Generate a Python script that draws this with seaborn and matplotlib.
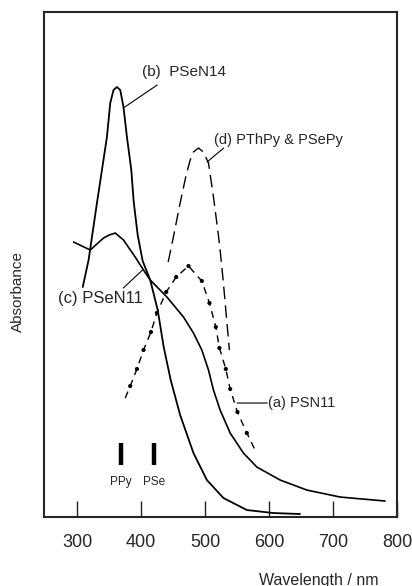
import numpy as np
import pandas as pd
import matplotlib
matplotlib.use("Agg")
import matplotlib.pyplot as plt
import seaborn as sns

# ---- data (absorbance in arbitrary units) ----
b_nm = [308.6, 317.7, 323.0, 330.8, 338.6, 346.4, 351.6, 356.7, 362.0, 367.2, 372.3, 377.7,
        384.5, 388.3, 394.5, 402.3, 414.1, 425.8, 435.2, 446.1, 460.9, 481.7, 502.7, 528.6,
        565.2, 606.7, 648.4]
b_abs = [2.30, 2.57, 2.80, 3.14, 3.47, 3.80, 4.14, 4.27, 4.30, 4.27, 4.10, 3.80,
         3.47, 3.15, 2.82, 2.56, 2.37, 2.07, 1.70, 1.37, 1.02, 0.64, 0.37, 0.19,
         0.07, 0.04, 0.03]

c_nm = [294.2, 320.3, 341.1, 350.0, 359.4, 372.3, 390.6, 403.6, 414.1, 440.2, 466.1, 481.7,
        494.8, 505.2, 513.0, 523.4, 539.1, 559.8, 580.8, 617.2, 658.9, 710.9, 781.3]
c_abs = [2.75, 2.67, 2.79, 2.82, 2.84, 2.77, 2.60, 2.47, 2.37, 2.20, 2.00, 1.84,
         1.67, 1.47, 1.27, 1.07, 0.84, 0.64, 0.50, 0.37, 0.27, 0.20, 0.16]

a_nm = [375.0, 382.8, 393.3, 403.6, 415.2, 424.5, 439.1, 454.7, 473.9, 494.8, 506.7, 516.7,
        522.3, 532.3, 539.1, 550.5, 565.2, 578.1]
a_abs = [1.19, 1.31, 1.48, 1.67, 1.85, 2.04, 2.25, 2.40, 2.51, 2.36, 2.14, 1.90,
         1.69, 1.48, 1.28, 1.05, 0.84, 0.67]

d_nm = [442.2, 450.0, 460.9, 470.3, 476.6, 481.7, 489.5, 497.3, 505.2, 513.0, 520.3, 523.4,
        528.1, 537.9]
d_abs = [2.55, 2.79, 3.14, 3.42, 3.57, 3.65, 3.69, 3.65, 3.54, 3.20, 2.84, 2.67,
         2.37, 1.67]

ref_names = ["PPy", "PSe"]
ref_nm = [368, 420]

x_ticks = [300, 400, 500, 600, 700, 800]
x_tick_labels = ["300", "400", "500", "600", "700", "800"]

# ---- style ----
sns.set_style("ticks")
plt.rcParams["font.family"] = ["Liberation Sans", "DejaVu Sans"]

fig = plt.figure(figsize=(4.12, 5.86), dpi=100)
ax = fig.add_axes([0.1068, 0.1177, 0.8568, 0.8618])

df_b = pd.DataFrame({"nm": b_nm, "A": b_abs})
df_c = pd.DataFrame({"nm": c_nm, "A": c_abs})
df_a = pd.DataFrame({"nm": a_nm, "A": a_abs})
df_d = pd.DataFrame({"nm": d_nm, "A": d_abs})

sns.lineplot(data=df_b, x="nm", y="A", ax=ax, color="black", lw=1.3, estimator=None, sort=False)
ax.lines[-1].set_solid_joinstyle("round")
sns.lineplot(data=df_c, x="nm", y="A", ax=ax, color="black", lw=1.2, estimator=None, sort=False)
ax.lines[-1].set_solid_joinstyle("round")
sns.lineplot(data=df_a, x="nm", y="A", ax=ax, color="black", lw=1.0, estimator=None, sort=False)
ax.lines[-1].set_dashes((5, 4))
sns.scatterplot(data=df_a.iloc[1:-1], x="nm", y="A", ax=ax, color="black", s=9,
                edgecolor="none", zorder=5)
sns.lineplot(data=df_d, x="nm", y="A", ax=ax, color="black", lw=1.0, estimator=None, sort=False)
ax.lines[-1].set_dashes((9, 4.5))

# reference bars
for name, x in zip(ref_names, ref_nm):
    ax.vlines(x, 0.52, 0.74, color="black", lw=3.2)
    ax.text(x, 0.35, name, ha="center", va="center", fontsize=8.5)

# labels with leader lines
line_kw = dict(arrowstyle="-", color="black", lw=0.8, shrinkA=0, shrinkB=0)
ax.annotate("", xy=(372, 4.09), xytext=(425, 4.32), arrowprops=line_kw)
ax.text(467, 4.45, "(b)  PSeN14", ha="center", va="center", fontsize=11)

ax.annotate("", xy=(503, 3.55), xytext=(529, 3.69), arrowprops=line_kw)
ax.text(614, 3.77, "(d) PThPy & PSePy", ha="center", va="center", fontsize=10.5)

ax.annotate("", xy=(402, 2.47), xytext=(372, 2.29), arrowprops=line_kw)
ax.text(336, 2.19, "(c) PSeN11", ha="center", va="center", fontsize=12)

ax.annotate("", xy=(550, 1.14), xytext=(597, 1.14), arrowprops=line_kw)
ax.text(599, 1.14, "(a) PSN11", ha="left", va="center", fontsize=10.5)

# axes
ax.set_xlim(248, 800)
ax.set_ylim(0, 5.05)
ax.set_xticks(x_ticks)
ax.set_xticklabels(x_tick_labels, fontsize=13)
ax.set_yticks([])
ax.tick_params(axis="x", direction="in", length=11.5, width=1.0, pad=12)
for s in ax.spines.values():
    s.set_visible(True)
    s.set_linewidth(1.5)
ax.set_xlabel("")
ax.set_ylabel("")
fig.text(319 / 412, 1 - 580 / 586, "Wavelength / nm", ha="center", va="center", fontsize=11.5)
fig.text(18 / 412, 1 - 292 / 586, "Absorbance", ha="center", va="center", fontsize=11,
         rotation=90)

fig.savefig("out.png", dpi=100)
